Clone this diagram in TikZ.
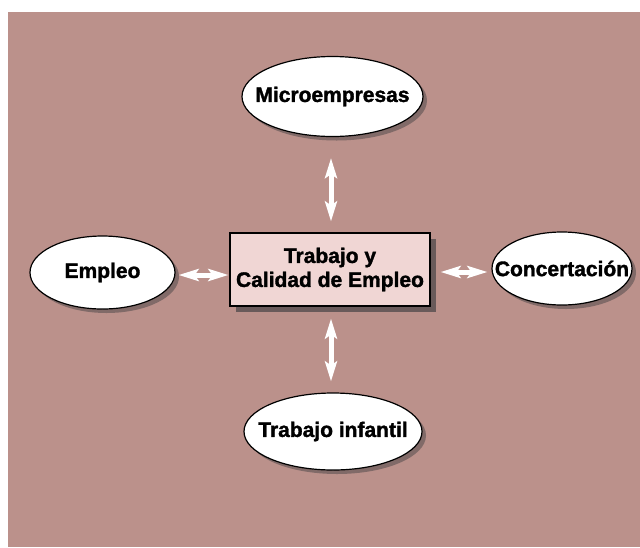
\documentclass[tikz,border=0pt]{standalone}
\usepackage{fontspec}
\setmainfont{Liberation Sans}[BoldFeatures={FakeBold=1.6}]
\usetikzlibrary{shapes.geometric,arrows.meta}
\definecolor{bgc}{RGB}{187,145,139}
\definecolor{boxc}{RGB}{240,214,212}
\definecolor{shad}{RGB}{105,90,90}
\tikzset{
  oval/.style={ellipse, draw=black, line width=1.2pt, fill=white, inner xsep=-40pt, inner ysep=-12pt,
    font=\fontsize{21}{24}\selectfont\bfseries,
    preaction={fill=shad, opacity=0.7, transform canvas={shift={(4pt,-4pt)}}}},
  centre/.style={rectangle, draw=black, line width=1.2pt, fill=boxc, align=center,
    font=\fontsize{21}{24}\selectfont\bfseries,
    preaction={fill=shad, transform canvas={shift={(6pt,-6pt)}}}},
  link/.style={draw=white, line width=5pt, {Stealth[length=20pt,width=12pt,inset=4pt]}-{Stealth[length=20pt,width=12pt,inset=4pt]}}
}
\begin{document}
\begin{tikzpicture}[x=1pt,y=-1pt]
\useasboundingbox (0,0) rectangle (640,547);
\fill[white] (0,0) rectangle (640,547);
\fill[bgc] (8,12) rectangle (640,547);
\node[oval, minimum width=181pt, minimum height=80pt] (micro) at (332.5,96.5) {Microempresas};
\node[oval, minimum width=145pt, minimum height=73pt] (empleo) at (102.5,272.5) {Empleo};
\node[oval, minimum width=140pt, minimum height=73pt] (conc) at (562,268.5) {Concertación};
\node[oval, minimum width=178pt, minimum height=77pt] (infantil) at (333,431.5) {Trabajo infantil};
\node[centre, minimum width=200pt, minimum height=73pt] (centro) at (330,269.5) {Trabajo y\\Calidad de Empleo};
\draw[link, shorten <=11pt, shorten >=21pt] ([xshift=1pt]centro.north) -- ([xshift=1pt]centro.north |- micro.south);
\draw[link, shorten <=12pt, shorten >=11pt] ([xshift=1pt]centro.south) -- ([xshift=1pt]centro.south |- infantil.north);
\draw[link, shorten <=1pt, shorten >=3pt] ([yshift=-5.5pt]centro.west) -- ([yshift=-5.5pt]centro.west -| empleo.east);
\draw[link, shorten <=10pt, shorten >=4pt] ([yshift=-2.5pt]centro.east) -- ([yshift=-2.5pt]centro.east -| conc.west);
\end{tikzpicture}
\end{document}
